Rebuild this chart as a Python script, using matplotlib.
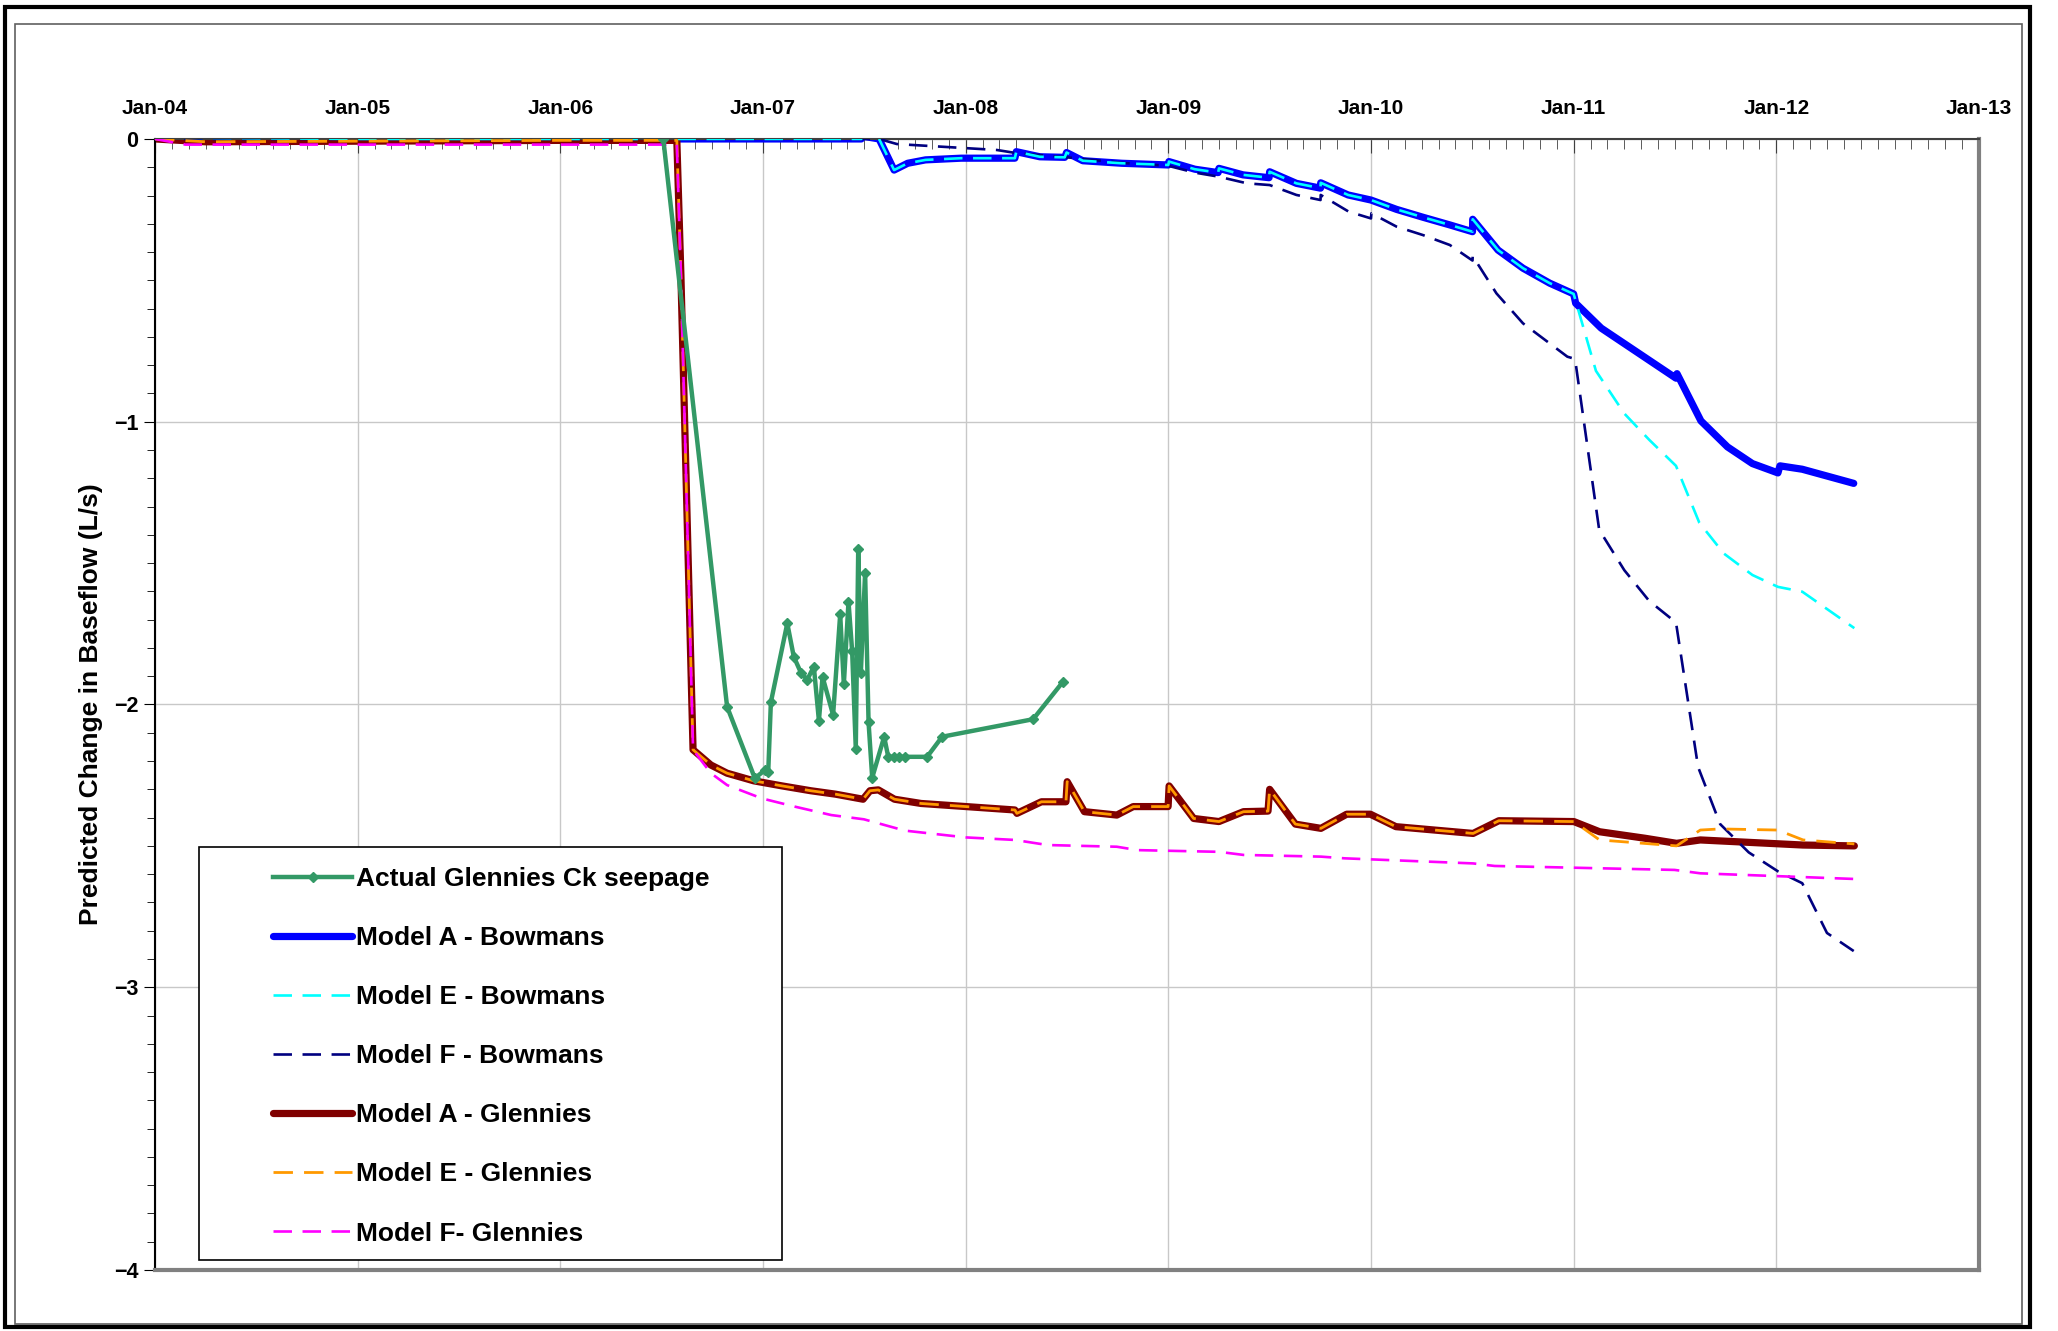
import matplotlib
matplotlib.use("Agg")
import matplotlib.pyplot as plt
from matplotlib.ticker import MultipleLocator, FuncFormatter
from matplotlib.patches import Rectangle

plt.rcParams['font.family'] = ['Liberation Sans', 'DejaVu Sans']
plt.rcParams['font.weight'] = 'bold'

# time in decimal years, values in L/s
actual_t = [2006.508, 2006.823, 2006.96, 2007.009, 2007.026, 2007.039, 2007.12, 2007.152,
            2007.187, 2007.218, 2007.251, 2007.276, 2007.294, 2007.346, 2007.381, 2007.399,
            2007.422, 2007.44, 2007.458, 2007.47, 2007.483, 2007.504, 2007.521, 2007.539,
            2007.598, 2007.618, 2007.645, 2007.672, 2007.702, 2007.81, 2007.884, 2008.333,
            2008.481]
actual_v = [0.0, -2.008, -2.261, -2.232, -2.238, -1.992, -1.713, -1.831,
            -1.887, -1.913, -1.866, -2.057, -1.902, -2.037, -1.681, -1.929,
            -1.636, -1.811, -2.157, -1.45, -1.887, -1.534, -2.063, -2.259,
            -2.114, -2.185, -2.185, -2.185, -2.185, -2.185, -2.114, -2.052,
            -1.919]

# Bowmans - common part of models A and E up to Jan-11
bow_t = [2004.0, 2005.0, 2006.0, 2007.0, 2007.485, 2007.49, 2007.573, 2007.647, 2007.714,
         2007.802, 2007.978, 2008.243, 2008.25, 2008.366, 2008.489, 2008.498, 2008.578,
         2008.771, 2009.0, 2009.003, 2009.131, 2009.246, 2009.25, 2009.369, 2009.497,
         2009.5, 2009.632, 2009.751, 2009.752, 2009.887, 2010.0, 2010.126, 2010.257,
         2010.389, 2010.501, 2010.502, 2010.627, 2010.75, 2010.882, 2011.0]
bow_v = [0.005, 0.0, 0.0, 0.0, 0.0, 0.01, 0.0, -0.11, -0.086,
         -0.074, -0.068, -0.068, -0.045, -0.063, -0.065, -0.048, -0.077,
         -0.086, -0.092, -0.08, -0.107, -0.119, -0.104, -0.127, -0.137,
         -0.116, -0.157, -0.174, -0.155, -0.198, -0.216, -0.249, -0.277,
         -0.304, -0.328, -0.284, -0.393, -0.457, -0.51, -0.548]
bow_a_tail_t = [2011.01, 2011.136, 2011.505, 2011.51, 2011.628, 2011.759, 2011.882,
                2012.008, 2012.018, 2012.128, 2012.382]
bow_a_tail_v = [-0.581, -0.669, -0.846, -0.83, -0.997, -1.089, -1.148,
                -1.181, -1.156, -1.168, -1.218]
bow_e_tail_t = [2011.11, 2011.25, 2011.373, 2011.505, 2011.62, 2011.741, 2011.882,
                2012.008, 2012.128, 2012.385]
bow_e_tail_v = [-0.82, -0.971, -1.064, -1.156, -1.357, -1.466, -1.542,
                -1.584, -1.601, -1.73]

bow_f_t = [2004.0, 2006.0, 2007.573, 2007.661, 2008.154, 2008.25, 2008.5, 2008.78,
           2009.0, 2009.131, 2009.246, 2009.389, 2009.5, 2009.632, 2009.751, 2009.752,
           2009.89, 2010.0, 2010.002, 2010.126, 2010.257, 2010.389, 2010.501, 2010.502,
           2010.619, 2010.75, 2010.969, 2011.007, 2011.126, 2011.25, 2011.373, 2011.505,
           2011.614, 2011.723, 2011.864, 2012.008, 2012.128, 2012.25, 2012.382]
bow_f_v = [0.0, 0.0, 0.0, -0.018, -0.039, -0.05, -0.065, -0.085,
           -0.095, -0.119, -0.133, -0.157, -0.163, -0.198, -0.216, -0.198,
           -0.257, -0.281, -0.263, -0.31, -0.34, -0.375, -0.43, -0.414,
           -0.546, -0.652, -0.77, -0.778, -1.382, -1.525, -1.634, -1.71,
           -2.221, -2.423, -2.523, -2.59, -2.632, -2.808, -2.872]

# Glennies - common part of models A and E up to Jan-11
glen_t = [2004.0, 2004.25, 2006.0, 2006.575, 2006.595, 2006.655, 2006.743, 2006.823,
          2006.955, 2007.095, 2007.236, 2007.357, 2007.494, 2007.528, 2007.569, 2007.649,
          2007.78, 2008.002, 2008.243, 2008.253, 2008.374, 2008.495, 2008.501, 2008.586,
          2008.746, 2008.827, 2008.999, 2009.004, 2009.125, 2009.25, 2009.371, 2009.492,
          2009.5, 2009.627, 2009.753, 2009.88, 2009.997, 2010.123, 2010.504, 2010.631,
          2011.001]
glen_v = [0.0, -0.01, -0.005, -0.005, -0.48, -2.16, -2.214, -2.243,
          -2.27, -2.288, -2.305, -2.317, -2.335, -2.305, -2.302, -2.335,
          -2.35, -2.361, -2.373, -2.385, -2.344, -2.344, -2.273, -2.379,
          -2.391, -2.361, -2.361, -2.288, -2.403, -2.414, -2.379, -2.377,
          -2.30, -2.423, -2.438, -2.388, -2.388, -2.432, -2.456, -2.411,
          -2.414]
glen_a_tail_t = [2011.128, 2011.352, 2011.508, 2011.625, 2012.132, 2012.385]
glen_a_tail_v = [-2.45, -2.473, -2.491, -2.479, -2.497, -2.50]
glen_e_tail_t = [2011.128, 2011.508, 2011.625, 2011.723, 2012.007, 2012.132, 2012.385]
glen_e_tail_v = [-2.479, -2.50, -2.444, -2.44, -2.444, -2.479, -2.493]

glen_f_t = [2004.0, 2004.15, 2006.575, 2006.595, 2006.655, 2006.743, 2006.823, 2006.994,
            2007.156, 2007.337, 2007.498, 2007.70, 2008.0, 2008.243, 2008.404, 2008.746,
            2008.848, 2009.25, 2009.371, 2009.753, 2009.87, 2010.504, 2010.61, 2011.498,
            2011.625, 2012.385]
glen_f_v = [0.0, -0.02, -0.02, -0.48, -2.16, -2.243, -2.285, -2.332,
            -2.361, -2.391, -2.406, -2.446, -2.47, -2.479, -2.497, -2.503,
            -2.515, -2.521, -2.532, -2.538, -2.544, -2.562, -2.571, -2.585,
            -2.597, -2.617]

fig = plt.figure(figsize=(20.58, 13.31), dpi=100)
ax = fig.add_axes([0.0753, 0.0458, 0.8863, 0.8498])

dash = (7, 4)
h_blue, = ax.plot(bow_t + bow_a_tail_t, bow_v + bow_a_tail_v, color='#0000FF', lw=5.2,
                  solid_joinstyle='round', solid_capstyle='round', zorder=2,
                  label='Model A - Bowmans')
h_red, = ax.plot(glen_t + glen_a_tail_t, glen_v + glen_a_tail_v, color='#800000', lw=5.2,
                 solid_joinstyle='round', solid_capstyle='round', zorder=2,
                 label='Model A - Glennies')
h_navy, = ax.plot(bow_f_t, bow_f_v, color='#000080', lw=1.9, dashes=dash, zorder=3,
                  label='Model F - Bowmans')
h_cyan, = ax.plot(bow_t + bow_e_tail_t, bow_v + bow_e_tail_v, color='#00FFFF', lw=1.9,
                  dashes=dash, zorder=3, label='Model E - Bowmans')
h_orange, = ax.plot(glen_t + glen_e_tail_t, glen_v + glen_e_tail_v, color='#FF9900', lw=2.0,
                    dashes=dash, zorder=3, label='Model E - Glennies')
h_mag, = ax.plot(glen_f_t, glen_f_v, color='#FF00FF', lw=1.9, dashes=dash, zorder=3,
                 label='Model F- Glennies')
h_green, = ax.plot(actual_t, actual_v, color='#339966', lw=3.2, marker='D', markersize=5.5,
                   zorder=4, label='Actual Glennies Ck seepage')

ax.set_xlim(2004, 2013)
ax.set_ylim(-4, 0)

ax.xaxis.tick_top()
ax.xaxis.set_major_locator(MultipleLocator(1))
ax.xaxis.set_minor_locator(MultipleLocator(1 / 12))
ax.xaxis.set_major_formatter(FuncFormatter(lambda x, p: "Jan-%02d" % (int(round(x)) % 100)))
ax.tick_params(axis='x', which='both', direction='in', top=True, bottom=False,
               colors='#404040', labelcolor='black')
ax.tick_params(axis='x', which='major', length=10, labelsize=15, pad=15)
ax.tick_params(axis='x', which='minor', length=7)

ax.yaxis.set_major_locator(MultipleLocator(1))
ax.yaxis.set_minor_locator(MultipleLocator(0.1))
ax.tick_params(axis='y', which='both', direction='out')
ax.tick_params(axis='y', which='major', length=8, labelsize=15.5, pad=4)
ax.tick_params(axis='y', which='minor', length=6)

ax.grid(True, which='major', color='#C8C8C8', lw=1)
ax.set_ylabel('Predicted Change in Baseflow (L/s)', fontsize=19, fontweight='bold', labelpad=8)

ax.spines['top'].set_color('#404040')
ax.spines['top'].set_linewidth(1.5)
ax.spines['left'].set_color('black')
ax.spines['left'].set_linewidth(1.5)
for s in ('bottom', 'right'):
    ax.spines[s].set_color('#808080')
    ax.spines[s].set_linewidth(3)

# legend box
ax.add_patch(Rectangle((0.0241, 0.0088), 0.3197, 0.3652, transform=ax.transAxes,
                       facecolor='white', edgecolor='black', lw=1.2, zorder=5))
leg = ax.legend(handles=[h_green, h_blue, h_cyan, h_navy, h_red, h_orange, h_mag],
                loc='upper left', bbox_to_anchor=(0.0575, 0.368), frameon=False,
                borderpad=0, handlelength=3, handletextpad=0.15, labelspacing=1.33,
                prop={'size': 19, 'weight': 'bold'})
leg.set_zorder(6)

# chart borders
W, H = 2058, 1331
fig.add_artist(Rectangle((15 / W, 1 - 1324 / H), 2007 / W, 1300 / H, transform=fig.transFigure,
                         fill=False, edgecolor='#606060', lw=1.2))
fig.add_artist(Rectangle((5 / W, 1 - 1327 / H), 2025 / W, 1320 / H, transform=fig.transFigure,
                         fill=False, edgecolor='black', lw=3))

fig.savefig('out.png', dpi=100)
